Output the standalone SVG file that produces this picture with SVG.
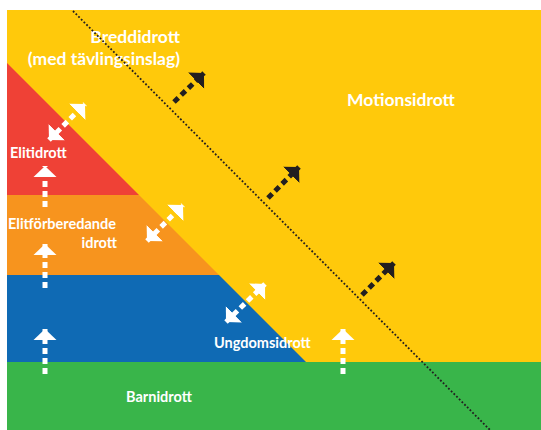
<svg xmlns="http://www.w3.org/2000/svg" width="541" height="430" viewBox="0 0 541 430">
<style>
.lbl{font-family:Lato,"Open Sans","Liberation Sans",sans-serif;font-weight:bold;fill:#fff}
.big{font-size:17.5px}
.sm{font-size:14.5px}
.wd{fill:none;stroke:#fff;stroke-width:5;stroke-dasharray:6 4}
.bd{fill:none;stroke:#231f20;stroke-width:5;stroke-dasharray:6 4}
.dot{fill:none;stroke:#231f20;stroke-width:1.8;stroke-dasharray:1.8 2}
</style>
<defs>
<marker id="wh" viewBox="-11 -12 12 24" refX="0" refY="0" markerWidth="12" markerHeight="24" markerUnits="userSpaceOnUse" orient="auto-start-reverse">
<path d="M0,0 L-11,-11.5 L-11,11.5 Z" fill="#fff"/>
</marker>
<marker id="bh" viewBox="-11 -12 12 24" refX="0" refY="0" markerWidth="12" markerHeight="24" markerUnits="userSpaceOnUse" orient="auto">
<path d="M0,0 L-11,-11.5 L-11,11.5 Z" fill="#231f20"/>
</marker>
</defs>
<rect width="541" height="430" fill="#fff"/>
<g id="motionsidrott">
<rect x="7" y="10" width="534" height="352" fill="#ffc90b"/>
<text class="lbl big" x="401" y="106" text-anchor="middle">Motionsidrott</text>
</g>
<g id="breddidrott">
<text class="lbl big" x="180" y="43" text-anchor="end">Breddidrott</text>
<text class="lbl big" x="180" y="65" text-anchor="end">(med tävlingsinslag)</text>
</g>
<g id="elitidrott">
<polygon points="7,63 139,195 7,195" fill="#ef4136"/>
<text class="lbl sm" x="10" y="158">Elitidrott</text>
</g>
<g id="elitforberedande">
<polygon points="7,195 139,195 219,275 7,275" fill="#f7941e"/>
<text class="lbl sm" x="8" y="229">Elitförberedande</text>
<text class="lbl sm" x="117" y="248" text-anchor="end">idrott</text>
</g>
<g id="ungdomsidrott">
<polygon points="7,275 219,275 306,362 7,362" fill="#0f6ab4"/>
<text class="lbl sm" x="214" y="348">Ungdomsidrott</text>
</g>
<g id="barnidrott">
<rect x="7" y="362" width="534" height="68" fill="#39b54a"/>
<text class="lbl sm" x="159" y="402" text-anchor="middle">Barnidrott</text>
</g>
<g id="connectors">
<line class="dot" x1="73" y1="11" x2="490" y2="430"/>
<line class="wd" x1="45" y1="207" x2="45" y2="166" marker-end="url(#wh)"/>
<line class="wd" x1="45" y1="288" x2="45" y2="244" marker-end="url(#wh)"/>
<line class="wd" x1="45" y1="374" x2="45" y2="329" marker-end="url(#wh)"/>
<line class="wd" x1="343" y1="374" x2="343" y2="329" marker-end="url(#wh)"/>
<line class="wd" x1="49" y1="140" x2="85" y2="104" marker-start="url(#wh)" marker-end="url(#wh)"/>
<line class="wd" x1="147" y1="241" x2="183" y2="205" marker-start="url(#wh)" marker-end="url(#wh)"/>
<line class="wd" x1="226" y1="322" x2="265" y2="284" marker-start="url(#wh)" marker-end="url(#wh)"/>
<line class="bd" x1="174" y1="102" x2="204" y2="73" marker-end="url(#bh)"/>
<line class="bd" x1="268" y1="198" x2="299" y2="167" marker-end="url(#bh)"/>
<line class="bd" x1="362" y1="295" x2="394" y2="263" marker-end="url(#bh)"/>
</g>
</svg>
